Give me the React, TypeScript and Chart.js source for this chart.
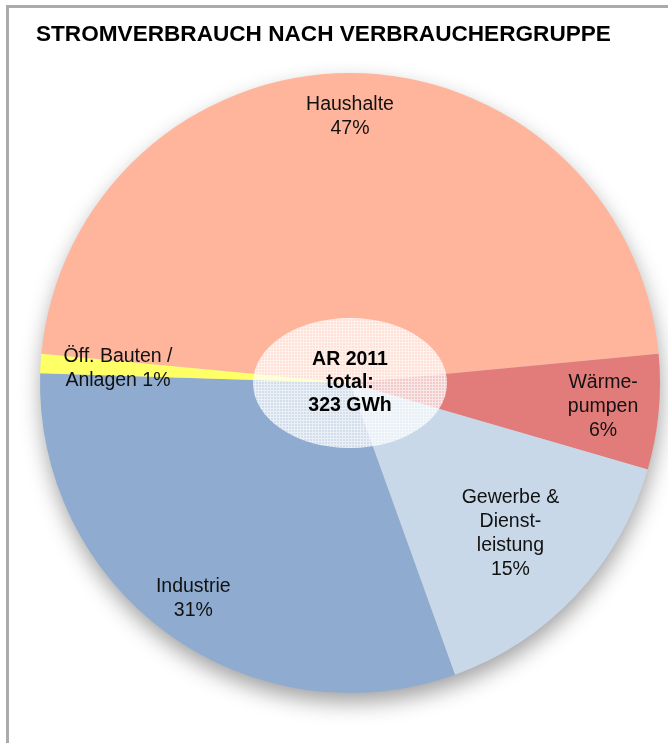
import React, { useEffect, useRef } from "react";
import { Chart, registerables } from "chart.js";

Chart.register(...registerables);

const TITLE = "STROMVERBRAUCH NACH VERBRAUCHERGRUPPE";
const CATEGORIES = ["Haushalte", "Wärmepumpen", "Gewerbe & Dienstleistung", "Industrie", "Öff. Bauten / Anlagen"];
const SHARES = [47, 6, 15, 31, 1];
const NAME_LINES = [["Haushalte"], ["Wärme-", "pumpen"], ["Gewerbe &", "Dienst-", "leistung"], ["Industrie"], ["Öff. Bauten /", "Anlagen"]];
const PCT_INLINE = [false, false, false, false, true];
const CENTER_LINES = ["AR 2011", "total:", "323 GWh"];
const COLORS = ["#FFB59C", "#E27C7B", "#C8D8E9", "#8FACD0", "#FFFF66"];
const LABEL_RADIUS = [0.86, 0.82, 0.71, 0.86, 0.75];
const START_ANGLE = -84.6;

const FONT = "'Liberation Sans', Arial, sans-serif";

function makePattern(ctx: CanvasRenderingContext2D) {
  const c = document.createElement("canvas");
  c.width = 3;
  c.height = 3;
  const p = c.getContext("2d")!;
  p.fillStyle = "rgba(255,255,255,0.6)";
  p.fillRect(0, 0, 3, 3);
  p.fillStyle = "rgba(255,255,255,0.55)";
  p.fillRect(0, 0, 3, 1);
  p.fillRect(0, 1, 1, 2);
  return ctx.createPattern(c, "repeat");
}

const decorPlugin = {
  id: "decor",
  beforeDraw(chart: any) {
    const ctx = chart.ctx as CanvasRenderingContext2D;
    ctx.save();
    ctx.fillStyle = "#ffffff";
    ctx.fillRect(0, 0, chart.width, chart.height);
    ctx.strokeStyle = "#ABABAB";
    ctx.lineWidth = 3;
    ctx.beginPath();
    ctx.moveTo(7.5, chart.height + 10);
    ctx.lineTo(7.5, 6.5);
    ctx.lineTo(chart.width + 10, 6.5);
    ctx.stroke();
    ctx.fillStyle = "#000";
    ctx.font = `bold 22.6px ${FONT}`;
    ctx.textBaseline = "alphabetic";
    ctx.textAlign = "left";
    ctx.fillText(TITLE, 36, 41);
    ctx.restore();
  },
  beforeDatasetsDraw(chart: any) {
    const arc = chart.getDatasetMeta(0).data[0];
    if (!arc) return;
    const ctx = chart.ctx as CanvasRenderingContext2D;
    ctx.save();
    ctx.shadowColor = "rgba(0,0,0,0.38)";
    ctx.shadowBlur = 22;
    ctx.shadowOffsetY = 10;
    ctx.shadowOffsetX = 1;
    ctx.fillStyle = "#cccccc";
    ctx.beginPath();
    ctx.arc(arc.x, arc.y, arc.outerRadius - 1, 0, Math.PI * 2);
    ctx.fill();
    ctx.restore();
  },
  afterDatasetsDraw(chart: any) {
    const meta = chart.getDatasetMeta(0);
    const ctx = chart.ctx as CanvasRenderingContext2D;
    const first = meta.data[0];
    if (!first) return;
    const cx = first.x;
    const cy = first.y;
    const r = first.outerRadius;
    ctx.save();
    ctx.fillStyle = "#111";
    ctx.textAlign = "center";
    ctx.textBaseline = "middle";
    ctx.font = `19.5px ${FONT}`;
    const lh = 23.8;
    meta.data.forEach((a: any, i: number) => {
      const mid = (a.startAngle + a.endAngle) / 2;
      const d = r * LABEL_RADIUS[i];
      const x = cx + Math.cos(mid) * d;
      const y = cy + Math.sin(mid) * d;
      const lines = NAME_LINES[i].slice();
      if (PCT_INLINE[i]) lines[lines.length - 1] = lines[lines.length - 1] + " " + SHARES[i] + "%";
      else lines.push(SHARES[i] + "%");
      const y0 = y - ((lines.length - 1) * lh) / 2;
      lines.forEach((t, k) => ctx.fillText(t, x, y0 + k * lh));
    });
    const rx = r * 0.313;
    const ry = r * 0.21;
    ctx.beginPath();
    ctx.ellipse(cx, cy, rx, ry, 0, 0, Math.PI * 2);
    const pat = makePattern(ctx);
    ctx.fillStyle = pat || "rgba(255,255,255,0.65)";
    ctx.fill();
    ctx.fillStyle = "#000";
    ctx.font = `bold 19.5px ${FONT}`;
    const clh = 23;
    CENTER_LINES.forEach((t, k) => ctx.fillText(t, cx, cy + (k - 1) * clh));
    ctx.restore();
  },
};

export default function App() {
  const ref = useRef<HTMLCanvasElement | null>(null);
  useEffect(() => {
    if (!ref.current) return;
    const chart = new Chart(ref.current, {
      type: "pie",
      data: {
        labels: CATEGORIES,
        datasets: [
          {
            data: SHARES,
            backgroundColor: COLORS,
            borderWidth: 0,
          },
        ],
      },
      options: {
        animation: false,
        responsive: true,
        maintainAspectRatio: false,
        rotation: START_ANGLE,
        layout: { padding: { left: 40, right: 8, top: 73, bottom: 50 } },
        plugins: {
          legend: { display: false },
          tooltip: { enabled: false },
          title: { display: false },
        },
      },
      plugins: [decorPlugin],
    });
    return () => chart.destroy();
  }, []);
  return (
    <div style={{ position: "fixed", left: 0, top: 0, width: 668, height: 743, background: "#fff" }}>
      <canvas ref={ref} />
    </div>
  );
}
